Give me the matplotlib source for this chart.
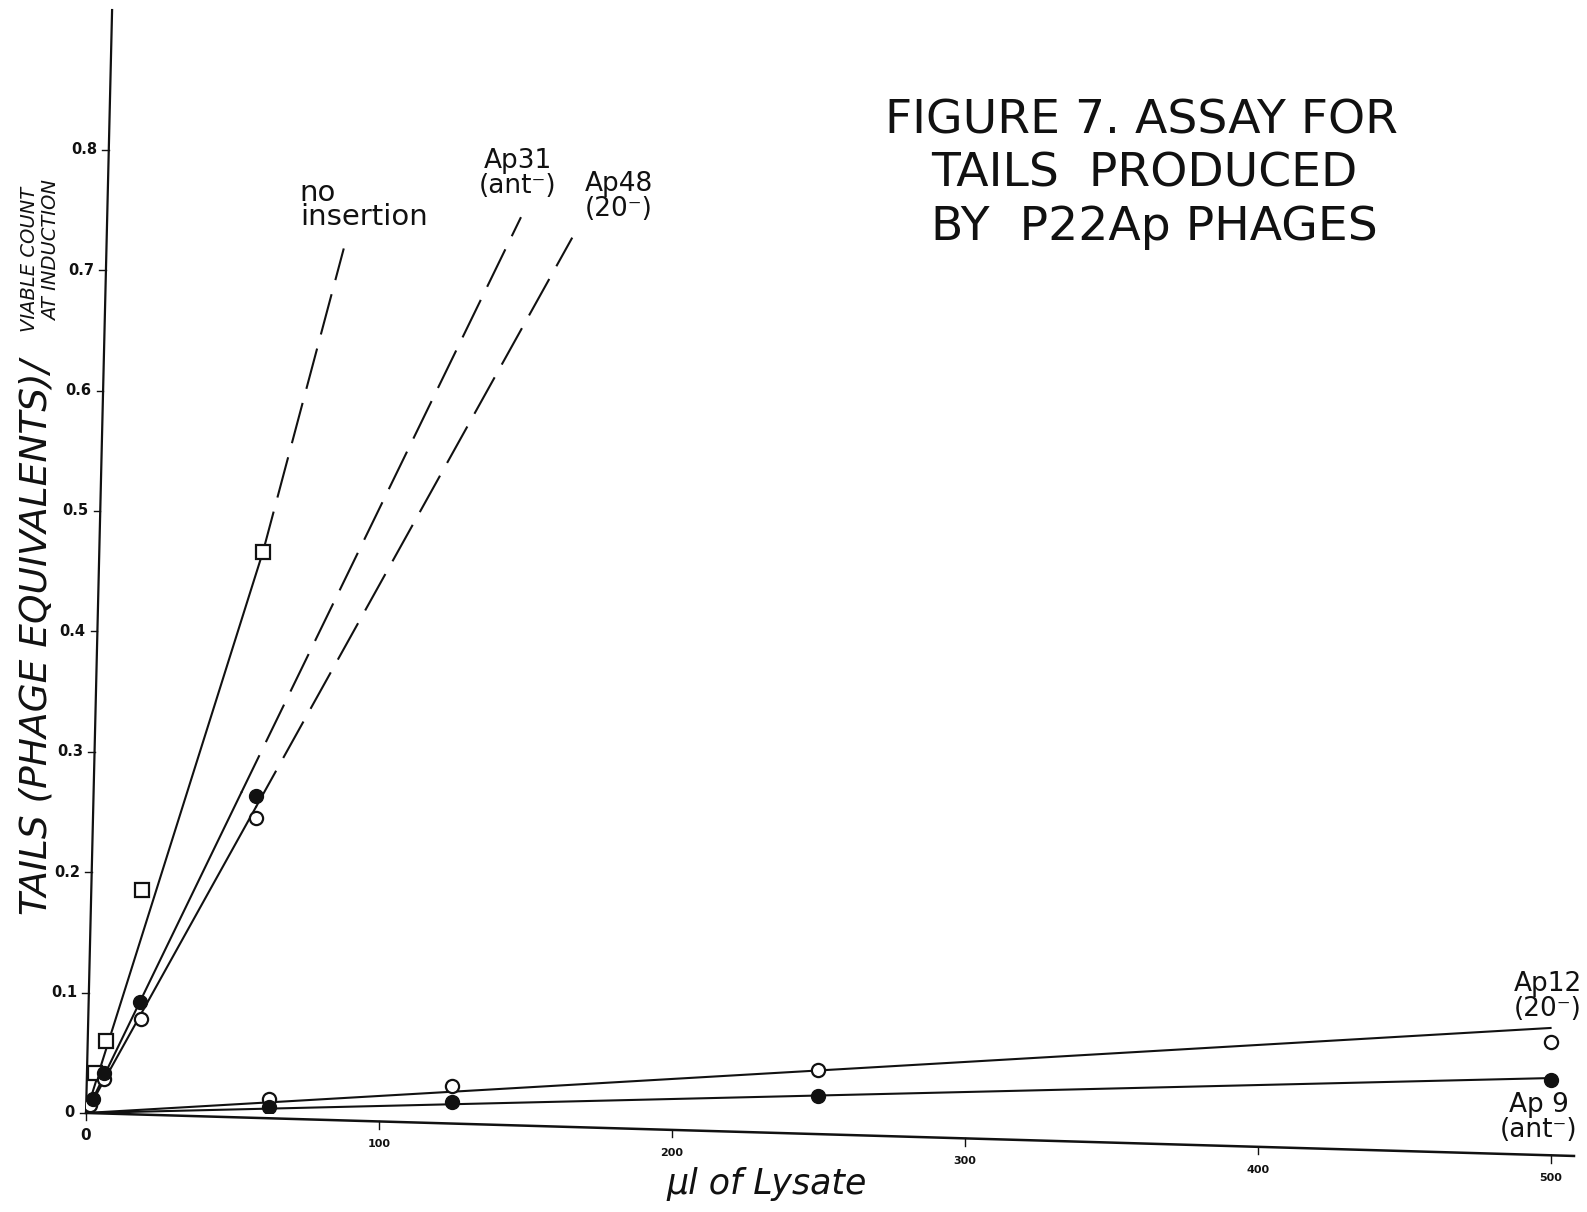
import matplotlib
matplotlib.use("Agg")
import matplotlib.pyplot as plt

# --- values ---
# no insertion (open squares)
noins_x = [3.1, 6.7, 19.1, 60.4]
noins_y = [0.033, 0.060, 0.185, 0.466]
noins_dash_x = [60.4, 88.0]
noins_dash_y = [0.466, 0.718]

# Ap31 (ant-), filled circles
ap31_x = [2.5, 6.1, 18.4, 58.0]
ap31_y = [0.012, 0.033, 0.092, 0.263]
ap31_solid_x = [0.0, 53.0]
ap31_solid_y = [0.0, 0.266]
ap31_dash_x = [53.0, 148.5]
ap31_dash_y = [0.266, 0.744]

# Ap48 (20-), open circles
ap48_x = [1.2, 6.2, 18.8, 58.0]
ap48_y = [0.007, 0.028, 0.078, 0.245]
ap48_solid_x = [0.0, 58.0]
ap48_solid_y = [0.0, 0.254]
ap48_dash_x = [58.0, 166.0]
ap48_dash_y = [0.254, 0.727]

# Ap12 (20-), open circles / Ap9 (ant-), filled circles
low_x = [62.5, 125, 250, 500]
ap12_y = [0.012, 0.022, 0.036, 0.059]
ap9_y = [0.005, 0.009, 0.014, 0.027]
ap12_line_y = [0.0, 0.0706]
ap9_line_y = [0.0, 0.029]
line_x = [0, 500]

x_ticks = [0, 100, 200, 300, 400, 500]
y_ticks = [0, 0.1, 0.2, 0.3, 0.4, 0.5, 0.6, 0.7, 0.8]
y_ticklabels = ["0", "0.1", "0.2", "0.3", "0.4", "0.5", "0.6", "0.7", "0.8"]

INK = "#111111"
LW = 1.5
DASH = (20, 7)
XMAX, YMAX = 508, 0.916
# the scanned drawing is slightly skewed: x axis drops, y axis leans right
X_DROP = -0.0357 / XMAX     # y units per µl along the x axis
Y_LEAN = 8.9 / YMAX         # µl per y unit along the y axis

fig = plt.figure(figsize=(15.87, 12.12), dpi=100)
ax = fig.add_axes([0.0542, 0.0817, 0.9376, 0.91])
ax.set_xlim(0, XMAX)
ax.set_ylim(0, YMAX)
ax.set_axis_off()

# fitted lines
ax.plot([0] + noins_x[-1:], [0] + noins_y[-1:], color=INK, lw=LW)
ax.plot(noins_dash_x, noins_dash_y, color=INK, lw=LW, dashes=DASH)
ax.plot(ap31_solid_x, ap31_solid_y, color=INK, lw=LW)
ax.plot(ap31_dash_x, ap31_dash_y, color=INK, lw=LW, dashes=DASH)
ax.plot(ap48_solid_x, ap48_solid_y, color=INK, lw=LW)
ax.plot(ap48_dash_x, ap48_dash_y, color=INK, lw=LW, dashes=DASH)
ax.plot(line_x, ap12_line_y, color=INK, lw=LW)
ax.plot(line_x, ap9_line_y, color=INK, lw=LW)

# data points
ax.plot(noins_x, noins_y, ls="none", marker="s", ms=9.5, mfc="white",
        mec=INK, mew=1.6, zorder=3)
ax.plot(ap48_x, ap48_y, ls="none", marker="o", ms=9.5, mfc="white",
        mec=INK, mew=1.6, zorder=3)
ax.plot(ap31_x, ap31_y, ls="none", marker="o", ms=10, color=INK, zorder=4)
ax.plot(low_x, ap12_y, ls="none", marker="o", ms=9.5, mfc="white",
        mec=INK, mew=1.6, zorder=3)
ax.plot(low_x, ap9_y, ls="none", marker="o", ms=10, color=INK, zorder=4)

# hand-drawn axes (skewed like the scan)
ax.plot([0, XMAX], [0, X_DROP * XMAX], color=INK, lw=1.8, clip_on=False)
ax.plot([0, Y_LEAN * YMAX], [0, YMAX], color=INK, lw=1.6, clip_on=False)
for t in x_ticks:
    y0 = X_DROP * t
    ax.plot([t, t], [y0, y0 - 0.006], color=INK, lw=1.0, clip_on=False)
    ax.text(t, y0 - 0.019, str(t), fontsize=8 if t else 11,
            fontweight="bold", color=INK, ha="center", va="center")
for v, s in zip(y_ticks, y_ticklabels):
    x0 = Y_LEAN * v
    ax.plot([x0 - 2.2, x0], [v, v], color=INK, lw=1.0, clip_on=False)
    ax.text(x0 - 4.0, v, s, fontsize=10.5, fontweight="bold", color=INK,
            ha="right", va="center", clip_on=False)

# curve labels
lab = dict(color=INK, fontsize=19, ha="center", va="center",
           linespacing=0.95, clip_on=False)
ax.text(73, 0.754, "no\ninsertion", fontsize=21, color=INK, ha="left",
        va="center", linespacing=0.8)
ax.text(147.4, 0.78, "Ap31\n(ant\u207b)", **lab)
ax.text(182, 0.761, "Ap48\n(20\u207b)", **lab)
ax.text(499, 0.097, "Ap12\n(20\u207b)", **lab)
ax.text(496, -0.004, "Ap 9\n(ant\u207b)", **lab)

# axis titles
fig.text(0.483, 0.023, "\u00b5l of Lysate", fontsize=25, style="italic",
         color=INK, ha="center", va="center")
fig.text(0.023, 0.474, "TAILS (PHAGE EQUIVALENTS)/", fontsize=27,
         style="italic", rotation=90, color=INK, ha="center", va="center")
fig.text(0.0185, 0.786, "VIABLE COUNT", fontsize=14, style="italic",
         rotation=90, color=INK, ha="center", va="center")
fig.text(0.0325, 0.793, "AT INDUCTION", fontsize=14, style="italic",
         rotation=90, color=INK, ha="center", va="center")

# figure title, hand-lettered in three lines
title_kw = dict(fontsize=34, color=INK, ha="left", va="center")
fig.text(885 / 1587, 1 - 121 / 1212, "FIGURE 7. ASSAY FOR", **title_kw)
fig.text(931 / 1587, 1 - 174 / 1212, "TAILS  PRODUCED", **title_kw)
fig.text(931 / 1587, 1 - 228 / 1212, "BY  P22Ap PHAGES", **title_kw)

fig.savefig("out.png", dpi=100, facecolor="white")
